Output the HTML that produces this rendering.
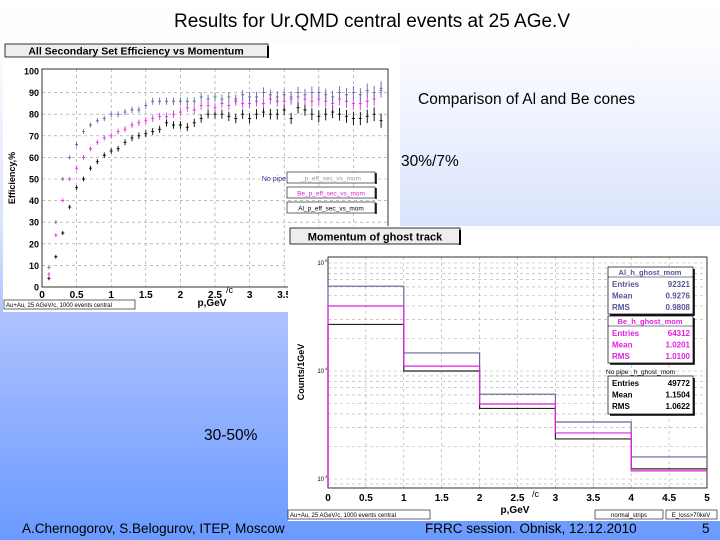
<!DOCTYPE html>
<html><head><meta charset="utf-8"><style>
html,body{margin:0;padding:0;width:720px;height:540px;overflow:hidden}
svg{display:block;font-family:"Liberation Sans",Arial,sans-serif}
</style></head><body>
<svg id="s" width="720" height="540" viewBox="0 0 720 540" xmlns="http://www.w3.org/2000/svg">
<defs><linearGradient id="bg" x1="0" y1="0" x2="0" y2="1">
<stop offset="0" stop-color="#ffffff"/><stop offset="0.1" stop-color="#fbfcff"/><stop offset="0.42" stop-color="#dae3fc"/><stop offset="0.58" stop-color="#aec2ff"/><stop offset="1" stop-color="#6a9aff"/></linearGradient></defs>
<rect width="720" height="540" fill="url(#bg)"/>
<text x="372" y="27" font-size="19" text-anchor="middle">Results for Ur.QMD central events at 25 AGe.V</text>
<text x="418" y="104" font-size="15.5">Comparison of Al and Be cones</text>
<text x="401" y="166" font-size="15.5">30%/7%</text>
<text x="204" y="440" font-size="15.5">30-50%</text>
<text x="22" y="533" font-size="13.5">A.Chernogorov, S.Belogurov, ITEP, Moscow</text>
<text x="425" y="533" font-size="13.5">FRRC session. Obnisk, 12.12.2010</text>
<text x="702" y="533" font-size="13.5">5</text>

<g id="left">
<rect x="3" y="43" width="397" height="269" fill="#fff"/>
<rect x="5" y="44" width="263" height="13" fill="#eee" stroke="#000" stroke-width="0.8"/>
<line x1="268" y1="46" x2="268" y2="58" stroke="#000" stroke-width="2"/>
<text x="136" y="54.5" font-size="10.5" font-weight="bold" text-anchor="middle">All Secondary Set Efficiency vs Momentum</text>
<text x="15" y="178" font-size="9" font-weight="bold" text-anchor="middle" transform="rotate(-90 15 178)">Efficiency,%</text>
<text x="212" y="306" font-size="10" font-weight="bold" text-anchor="middle">p,GeV</text>
<text x="226" y="293" font-size="9">/c</text>
<rect x="4" y="300" width="131" height="9" fill="#fff" stroke="#000" stroke-width="0.6"/>
<text x="6" y="307" font-size="6">Au+Au, 25 AGeV/c, 1000 events central</text>
</g>

<g id="right">
<rect x="288" y="226" width="432" height="295" fill="#fff"/>
<rect x="290" y="228" width="170" height="16" fill="#eee" stroke="#000" stroke-width="0.8"/>
<line x1="460" y1="230" x2="460" y2="245" stroke="#000" stroke-width="2"/>
<text x="375" y="240.5" font-size="11" font-weight="bold" text-anchor="middle">Momentum of ghost track</text>
<text x="304" y="372" font-size="9" font-weight="bold" text-anchor="middle" transform="rotate(-90 304 372)">Counts/1GeV</text>
<text x="515" y="513" font-size="10" font-weight="bold" text-anchor="middle">p,GeV</text>
<text x="532" y="497" font-size="9">/c</text>
<rect x="288" y="510" width="142" height="9" fill="#fff" stroke="#000" stroke-width="0.6"/>
<text x="290" y="517" font-size="6">Au+Au, 25 AGeV/c, 1000 events central</text>
<rect x="595" y="510" width="68" height="9" fill="#fff" stroke="#000" stroke-width="0.6"/>
<text x="629" y="517" font-size="6" text-anchor="middle">normal_strips</text>
<rect x="666" y="510" width="51" height="9" fill="#fff" stroke="#000" stroke-width="0.6"/>
<text x="691" y="517" font-size="6" text-anchor="middle">E_loss&gt;70keV</text>
</g>
</svg>
<script>
// ===== Left chart data =====
const effMomenta = [0.1,0.2,0.3,0.4,0.5,0.6,0.7,0.8,0.9,1.0,1.1,1.2,1.3,1.4,1.5,1.6,1.7,1.8,1.9,2.0,2.1,2.2,2.3,2.4,2.5,2.6,2.7,2.8,2.9,3.0,3.1,3.2,3.3,3.4,3.5,3.6,3.7,3.8,3.9,4.0,4.1,4.2,4.3,4.4,4.5,4.6,4.7,4.8,4.9];
const effNoPipe = [9,30,50,60,66,72,75,77,78,80,80,81,82,82,84,86,86,86,86,86,86,86,88,87,88,87,88,87,89,88,88,90,89,88,89,88,90,89,90,90,89,88,90,89,90,89,91,90,92];
const effBe = [6,24,40,50,55,60,64,67,69,70,72,73,75,76,77,78,79,79,80,81,83,82,84,84,83,85,84,86,85,85,86,85,87,86,86,87,88,87,86,87,86,85,87,86,85,85,86,87,91];
const effAl = [4,14,25,37,46,50,55,58,61,63,64,67,69,70,71,72,73,76,75,75,74,76,78,80,80,80,79,78,80,78,80,81,80,80,82,78,83,82,80,79,80,81,80,79,78,78,79,80,77];
const effXTicks = ["0","0.5","1","1.5","2","2.5","3","3.5","4","4.5","5"];
const effYTicks = ["0","10","20","30","40","50","60","70","80","90","100"];
// ===== Right chart data =====
const ghostBinEdges = [0,1,2,3,4,5];
const ghostAl = [61000,14700,6100,3370,1600];
const ghostBe = [40000,11100,4950,2670,1190];
const ghostNoPipe = [27000,10000,4500,2350,1240];
const ghostXTicks = ["0","0.5","1","1.5","2","2.5","3","3.5","4","4.5","5"];
const ghostYDecades = [3,4,5];

const NS="http://www.w3.org/2000/svg";
function mk(parent,tag,attrs){const e=document.createElementNS(NS,tag);for(const k in attrs)e.setAttribute(k,attrs[k]);parent.appendChild(e);return e;}

// Left chart
const L=document.getElementById('left');
const lx0=42,lx1=388,ly0=287,ly1=71;
const lxs=v=>lx0+(v/5)*(lx1-lx0);
const lys=v=>ly0-(v/100)*(ly0-ly1);
effXTicks.forEach((t,i)=>{const v=parseFloat(t);const x=lxs(v);
 if(i>0&&i<effXTicks.length-1){const g=mk(L,'line',{x1:x,y1:ly1-2,x2:x,y2:ly0,stroke:'#999','stroke-width':0.6,'stroke-dasharray':'3,3'});
 
 }
 if(v<=3.5){const tx=mk(L,'text',{x:x,y:ly0+11,'font-size':10,'font-weight':'bold','text-anchor':'middle'});tx.textContent=t;
 
 }
});
effYTicks.forEach((t,i)=>{const v=parseFloat(t);const y=lys(v);
 if(i>0&&i<effYTicks.length-1){const g=mk(L,'line',{x1:lx0,y1:y,x2:lx1,y2:y,stroke:'#999','stroke-width':0.6,'stroke-dasharray':'3,3'});
 
 }
 const tx=mk(L,'text',{x:lx0-3,y:y+3.5,'font-size':9,'font-weight':'bold','text-anchor':'end'});tx.textContent=t;
 
 
});
const lf=mk(L,'rect',{x:lx0,y:ly1-2,width:lx1-lx0,height:ly0-ly1+2,fill:'none',stroke:'#000','stroke-width':0.8});


function series(arr,color,name){
 arr.forEach((v,i)=>{const p=effMomenta[i];const x=lxs(p),y=lys(v);const e=(0.8+p*0.5)*(ly0-ly1)/100;
  const g=mk(L,'path',{d:`M${x-1.5},${y}H${x+1.5}M${x},${y-e}V${y+e}`,stroke:color,'stroke-width':0.9,fill:'none'});
  
  
 });
}
series(effAl,'#000','al-point');
series(effBe,'#e030e0','be-point');
series(effNoPipe,'#6666aa','nopipe-point');
// left legend
[['No pipe','_p_eff_sec_vs_mom',172,'#333399','#ddd'],['','Be_p_eff_sec_vs_mom',187,'#e020e0','#fff'],['','Al_p_eff_sec_vs_mom',202,'#000','#fff']].forEach((r,i)=>{
 const b=mk(L,'rect',{x:287,y:r[2],width:88,height:11,fill:'#fff',stroke:'#000','stroke-width':0.6});
 
 
 mk(L,'line',{x1:376,y1:r[2]+1,x2:376,y2:r[2]+12,stroke:'#000','stroke-width':1.5});
 const t=mk(L,'text',{x:331,y:r[2]+8.5,'font-size':6.5,'text-anchor':'middle',fill:i==0?'#999':r[3]});t.textContent=r[1];
 
 
 if(r[0]){const t2=mk(L,'text',{x:286,y:r[2]+9,'font-size':7,'text-anchor':'end',fill:r[3]});t2.textContent=r[0];
 
 }
});

// Right chart
const R=document.getElementById('right');
const rx0=328,rx1=707,ryTop=257,ryBot=488;
const ry5=263,ry3=479;
const rxs=v=>rx0+(v/5)*(rx1-rx0);
const rys=v=>ry3-(Math.log10(v)-3)/2*(ry3-ry5);
ghostXTicks.forEach((t,i)=>{const v=parseFloat(t);const x=rxs(v);
 if(i>0&&i<ghostXTicks.length-1){const g=mk(R,'line',{x1:x,y1:ryTop,x2:x,y2:ryBot,stroke:'#aaa','stroke-width':0.6,'stroke-dasharray':'3,3'});
 
 }
 const tx=mk(R,'text',{x:x,y:ryBot+13,'font-size':10,'font-weight':'bold','text-anchor':'middle'});tx.textContent=t;
 
 
});
for(let d=2;d<=5;d++){for(let m=1;m<10;m++){const v=m*Math.pow(10,d);const y=rys(v);if(y<ryTop||y>ryBot)continue;
 const g=mk(R,'line',{x1:rx0,y1:y,x2:rx1,y2:y,stroke:'#aaa','stroke-width':0.6,'stroke-dasharray':'3,3'});
 
 }}
ghostYDecades.forEach(d=>{if(d===4||d===3||d===5){const y=rys(Math.pow(10,d));
 const tx=mk(R,'text',{x:rx0-4,y:y+2,'font-size':6,'text-anchor':'end'});tx.textContent='10';
 
 
 const sp=mk(R,'text',{x:rx0-3,y:y-1,'font-size':4});sp.textContent=String(d);
 
 }});
const rf=mk(R,'rect',{x:rx0,y:ryTop,width:rx1-rx0,height:ryBot-ryTop,fill:'none',stroke:'#000','stroke-width':0.8});


function hist(arr,color,w,name){
 let d='';arr.forEach((v,i)=>{const xa=rxs(ghostBinEdges[i]),xb=rxs(ghostBinEdges[i+1]),y=rys(v);d+=(i==0?`M${xa},${ryBot}V${y}`:`V${y}`)+`H${xb}`;});
 const p=mk(R,'path',{d:d,stroke:color,'stroke-width':w,fill:'none'});
 
 
}
hist(ghostNoPipe,'#222',1.2,'nopipe-histogram');
hist(ghostAl,'#666699',1.2,'al-histogram');
hist(ghostBe,'#e020e0',1.2,'be-histogram');
// stat boxes
function stat(y,h,title,rows,color,name){
 const b=mk(R,'rect',{x:608,y:y,width:85,height:h,fill:'#fff',stroke:'#000','stroke-width':0.7});
 
 
 mk(R,'path',{d:`M${694},${y+2}V${y+h+1}H${610}`,stroke:'#000','stroke-width':1.6,fill:'none'});
 let yy=y;
 if(title){const t=mk(R,'text',{x:650,y:y+8,'font-size':7.5,'font-weight':'bold','text-anchor':'middle',fill:color});t.textContent=title;
 
 
 mk(R,'line',{x1:608,y1:y+10,x2:693,y2:y+10,stroke:'#000','stroke-width':0.6});yy=y+10;}
 rows.forEach((r,i)=>{const ty=yy+10+i*11.5;
  const a=mk(R,'text',{x:612,y:ty,'font-size':8,'font-weight':'bold',fill:color});a.textContent=r[0];
  
  
  const c=mk(R,'text',{x:690,y:ty,'font-size':8,'font-weight':'bold','text-anchor':'end',fill:color});c.textContent=r[1];
  
  });
}
stat(267,47,'Al_h_ghost_mom',[['Entries','92321'],['Mean','0.9276'],['RMS','0.9808']],'#555599','al-stats-box');
stat(316,47,'Be_h_ghost_mom',[['Entries','64312'],['Mean','1.0201'],['RMS','1.0100']],'#e020e0','be-stats-box');
const np=mk(R,'text',{x:606,y:374,'font-size':6.5});np.textContent='No pipe _h_ghost_mom';


stat(376,38,'',[['Entries','49772'],['Mean','1.1504'],['RMS','1.0622']],'#000','nopipe-stats-box');
</script>
</body></html>
